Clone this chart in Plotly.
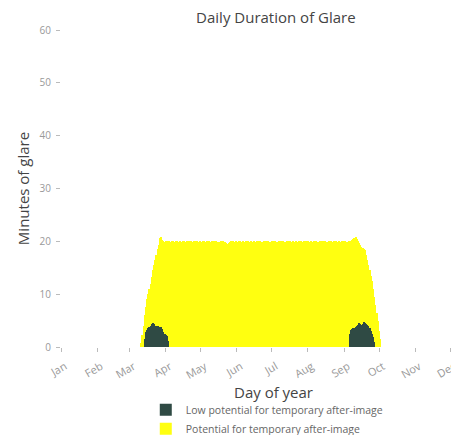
import pandas as pd
import plotly.graph_objects as go

year_start = "2023-01-01"

# total daily minutes of glare (potential for after-image), one value per day from Mar 11
total_start = "2023-03-11"
total_minutes = [
    0.8, 2.2, 4.0, 6.0, 7.5, 9.0, 10.0, 11.0, 12.0, 13.3,
    14.6, 15.5, 16.5, 17.5, 18.5, 19.3, 20.6, 20.8, 20.3, 20.0,
    19.9, 20.1, 19.8, 20.0, 20.0, 19.9, 20.1, 20.0, 19.8, 19.9,
    20.0, 20.1, 19.9, 20.0, 19.9, 19.8, 20.0, 20.0, 19.9, 20.0,
    19.9, 20.1, 19.9, 20.0, 19.8, 20.0, 19.9, 20.0, 20.0, 19.9,
    20.0, 19.9, 19.8, 20.0, 20.0, 19.9, 20.0, 19.9, 20.0, 19.8,
    19.9, 20.0, 20.0, 19.9, 20.0, 19.9, 19.8, 19.9, 20.0, 19.9,
    20.0, 19.9, 19.8, 19.6, 19.5, 19.7, 19.9, 20.0, 19.9, 20.0,
    19.9, 20.0, 19.8, 19.9, 20.0, 20.0, 19.9, 20.0, 19.9, 19.8,
    20.0, 19.9, 20.0, 19.9, 20.0, 19.9, 19.8, 20.0, 19.9, 20.0,
    20.0, 19.9, 20.0, 19.8, 19.9, 20.0, 19.9, 20.0, 19.9, 20.0,
    19.8, 19.9, 20.0, 20.0, 19.9, 20.0, 19.9, 19.8, 20.0, 19.9,
    20.0, 19.9, 20.0, 19.9, 19.8, 20.0, 19.9, 20.0, 20.0, 19.9,
    20.0, 19.8, 19.9, 20.0, 19.9, 20.0, 19.9, 20.0, 19.8, 19.9,
    20.0, 20.0, 19.9, 20.0, 19.9, 19.8, 20.0, 19.9, 20.0, 19.9,
    20.0, 19.9, 19.8, 20.0, 19.9, 20.0, 20.0, 19.9, 20.0, 19.8,
    19.9, 20.0, 19.9, 20.0, 19.9, 20.0, 19.9, 20.0, 19.9, 19.8,
    20.0, 19.9, 20.0, 20.0, 19.9, 20.0, 19.8, 19.9, 20.0, 19.9,
    20.0, 20.2, 20.4,
    20.6, 20.8, 20.5, 20.0, 19.7, 19.3, 19.0, 18.8, 18.6, 18.3,
    17.5, 16.5, 15.5, 14.5, 13.5, 12.5, 11.0, 9.5, 8.0, 6.5,
    5.0, 3.0, 1.5,
]

# low potential minutes, spring and autumn
low_spring_start = "2023-03-14"
low_spring = [
    1.5, 2.8, 3.3, 3.6, 3.8, 3.9, 4.3, 4.6, 4.4, 4.0,
    3.9, 3.9, 3.8, 3.8, 3.7, 3.5, 2.8, 2.4, 2.2, 2.0, 1.2,
]
low_autumn_start = "2023-09-06"
low_autumn = [
    2.5, 3.3, 3.5, 3.6, 3.6, 3.7, 3.9, 4.2, 4.5, 4.3,
    4.2, 4.4, 4.7, 4.5, 4.3, 4.2, 4.0, 3.6, 3.0, 2.5, 1.8, 1.0,
]

low_name = "Low potential for temporary after-image"
pot_name = "Potential for temporary after-image"
green = "#2f4a44"
yellow = "#ffff10"
day_ms = 86400000

fig = go.Figure()
fig.add_trace(go.Bar(
    x=pd.date_range(total_start, periods=len(total_minutes), freq="D"),
    y=total_minutes, name=pot_name, marker_color=yellow,
    marker_line_width=0, width=day_ms, legendrank=2,
))
low_x = list(pd.date_range(low_spring_start, periods=len(low_spring), freq="D")) + \
    list(pd.date_range(low_autumn_start, periods=len(low_autumn), freq="D"))
fig.add_trace(go.Bar(
    x=low_x, y=low_spring + low_autumn, name=low_name, marker_color=green,
    marker_line_width=0, width=day_ms, legendrank=1,
))

# page body has an 8px margin, so the figure is 8px smaller each way
fig.update_layout(
    width=451, height=427,
    margin=dict(l=53, r=0, t=22, b=88),
    barmode="overlay", bargap=0,
    plot_bgcolor="white", paper_bgcolor="white",
    font=dict(family="Open Sans, verdana, arial", color="#444"),
    title=dict(text="Daily Duration of Glare", x=0.594, xanchor="center",
               y=0.977, yanchor="middle", font=dict(size=15, color="#444")),
    # container refs so the legend does not push the bottom margin
    legend=dict(x=0.213, y=0.093, xref="paper", yref="container",
                xanchor="left", yanchor="top",
                font=dict(size=10.5, color="#666"), tracegroupgap=0),
    showlegend=True,
)
fig.update_xaxes(
    type="date", range=["2023-01-01", "2023-12-08 16:00"],
    tick0=year_start, dtick="M1", tickformat="%b", tickangle=-30,
    showgrid=False, zeroline=False, showline=False,
    ticks="outside", ticklen=4, tickcolor="#bbb",
    ticklabelshift=4, ticklabelstandoff=4, ticklabeloverflow="allow",
    tickfont=dict(size=11, color="#999"), automargin=False,
)
fig.update_yaxes(
    range=[0, 60], tickvals=[0, 10, 20, 30, 40, 50, 60],
    showgrid=False, zeroline=False, showline=False,
    ticks="outside", ticklen=4, tickcolor="#bbb", ticklabelstandoff=3,
    tickfont=dict(size=10, color="#999"), automargin=False,
    title=dict(text="Minutes of glare", font=dict(size=15, color="#444"), standoff=6),
)
fig.add_annotation(text="Day of year", x=0.535, xref="paper", y=-0.142, yref="paper",
                   yanchor="middle", showarrow=False, font=dict(size=15, color="#444"))
fig.write_html("out.html")
